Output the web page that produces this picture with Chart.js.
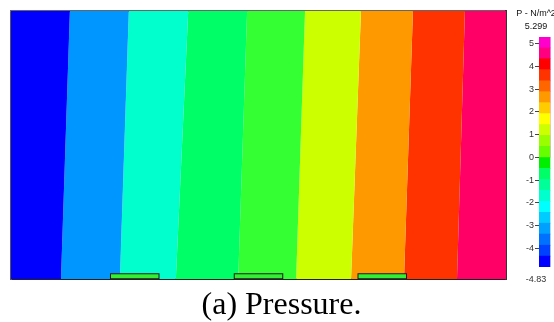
<!DOCTYPE html>
<html>
<head>
<meta charset="utf-8">
<script src="https://cdn.jsdelivr.net/npm/chart.js@4/dist/chart.umd.min.js"></script>
<style>
  body { margin: 0; background: #fff; width: 554px; height: 322px; overflow: hidden; position: relative; }
  #field { position: absolute; left: 0; top: 0; }
  #legendbar { position: absolute; left: 505px; top: 0; }
  #caption { position: absolute; left: 0; width: 563px; top: 287px; text-align: center;
             font: 32px/32px "Liberation Serif", "Times New Roman", serif; color: #000; }
</style>
</head>
<body>
<canvas id="field" width="520" height="290"></canvas>
<canvas id="legendbar" width="62" height="295"></canvas>
<div id="caption">(a) Pressure.</div>
<script>
// domain: 0..100 wide, 0..54.1 high
var domainWidth = 100;
var domainHeight = 54.1;

// contour band edges (x at bottom and x at top of the domain)
var edgesBottom = [0, 10.1, 22.0, 33.3, 45.9, 57.6, 68.7, 79.4, 90.1, 100];
var edgesTop    = [0, 11.9, 23.8, 35.8, 47.7, 59.4, 70.7, 81.2, 91.7, 100];
var bandColors = ["#0000ff", "#0096ff", "#00ffcc", "#00ff66", "#33ff33",
                  "#ccff00", "#ff9900", "#ff3300", "#ff0066"];

// heat pads on the bottom wall
var padStart = [20, 45, 70];
var padEnd = [30, 55, 80];
var padHeight = 1.1;

// colour scale
var scaleMin = -4.83;
var scaleMax = 5.299;
var scaleLevels = [-4.83, -4.35, -3.87, -3.38, -2.90, -2.42, -1.94, -1.45, -0.97, -0.49,
                   -0.01, 0.48, 0.96, 1.44, 1.93, 2.41, 2.89, 3.37, 3.86, 4.34, 4.82, 5.299];
var scaleColors = ["#0000ff", "#0040ff", "#0070ff", "#00a0ff", "#00ccff", "#00ffff",
                   "#00ffcc", "#00ff99", "#00ff66", "#00ee00", "#66ff00", "#99ff00",
                   "#ccff00", "#ffff00", "#ffcc00", "#ff9900", "#ff6600", "#ff3300",
                   "#ff0000", "#ff0080", "#ff00cc", "#ff00ff"];

var datasets = [];
for (var i = 0; i < edgesBottom.length; i++) {
    datasets.push({
        data: [{x: edgesBottom[i], y: 0}, {x: edgesTop[i], y: domainHeight}],
        indexAxis: 'y',
        borderWidth: 0,
        pointRadius: 0,
        backgroundColor: i > 0 ? bandColors[i - 1] : 'transparent',
        fill: i > 0 ? '-1' : false,
        order: 2
    });
}
for (var p = 0; p < padStart.length; p++) {
    datasets.push({
        data: [{x: padStart[p], y: padHeight / 2}, {x: padEnd[p], y: padHeight / 2}],
        indexAxis: 'x',
        borderColor: "#1a1a1a",
        borderWidth: 6,
        borderCapStyle: 'butt',
        pointRadius: 0,
        fill: false,
        order: 1
    });
    datasets.push({
        data: [{x: padStart[p] + 0.2, y: padHeight / 2}, {x: padEnd[p] - 0.2, y: padHeight / 2}],
        indexAxis: 'x',
        borderColor: "#33ee33",
        borderWidth: 4,
        borderCapStyle: 'butt',
        pointRadius: 0,
        fill: false,
        order: 0
    });
}

function edge(pos, col, w) {
    var horiz = (pos == 'top' || pos == 'bottom');
    return {
        type: 'linear', position: pos, display: true,
        min: 0, max: horiz ? domainWidth : domainHeight,
        ticks: { display: false }, grid: { display: false },
        border: { display: true, color: col, width: w },
        afterFit: function (s) { if (horiz) s.height = 0; else s.width = 0; }
    };
}

new Chart(document.getElementById("field"), {
    type: 'line',
    data: { datasets: datasets },
    options: {
        responsive: false,
        animation: false,
        layout: { padding: { left: 11, top: 11, right: 14, bottom: 11 } },
        scales: {
            x: edge('bottom', '#222', 2),
            y: edge('left', '#555', 2),
            x2: edge('top', '#666', 2),
            y2: edge('right', '#333', 2)
        },
        plugins: { legend: { display: false }, tooltip: { enabled: false } }
    }
});

// colour bar sits in the first of two category slots
var barSets = [];
for (var k = 0; k < scaleColors.length; k++) {
    barSets.push({
        data: [[scaleLevels[k], scaleLevels[k + 1]], null],
        backgroundColor: scaleColors[k],
        borderWidth: 0,
        barPercentage: 1,
        categoryPercentage: 1,
        grouped: false
    });
}

new Chart(document.getElementById("legendbar"), {
    type: 'bar',
    data: { labels: ["", ""], datasets: barSets },
    options: {
        responsive: false,
        animation: false,
        layout: { padding: { left: 6, top: 6.75, right: 6, bottom: 10.1 } },
        scales: {
            x: { display: false },
            y: {
                min: scaleMin, max: scaleMax,
                afterFit: function (s) { s.width = 28; },
                ticks: { stepSize: 1, includeBounds: false, color: '#333', padding: 1,
                         font: { family: 'Liberation Sans', size: 9 } },
                grid: { drawOnChartArea: false, tickLength: 4, color: '#444' },
                border: { display: false }
            }
        },
        plugins: {
            legend: { display: false },
            tooltip: { enabled: false },
            title: { display: true, text: ["P - N/m^2", "5.299"], color: '#111',
                     font: { family: 'Liberation Sans', size: 9, weight: 'normal', lineHeight: 1.5 },
                     padding: { top: 0, bottom: 3.25 } },
            subtitle: { display: true, position: 'bottom', text: "-4.83", color: '#333',
                        font: { family: 'Liberation Sans', size: 9 },
                        padding: { top: 7.1, bottom: 0 } }
        }
    }
});
</script>
</body>
</html>
